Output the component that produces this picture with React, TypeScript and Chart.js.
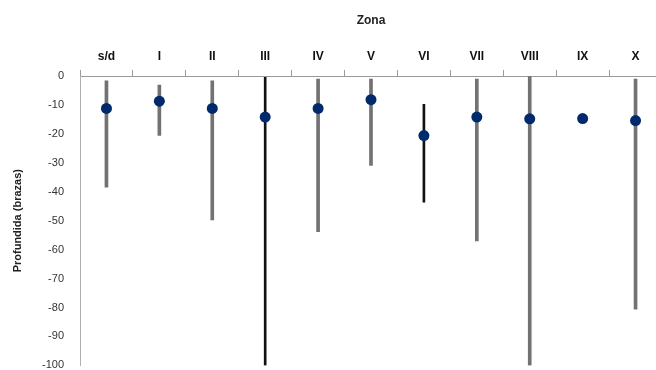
import React, { useEffect, useRef } from "react";
import { Chart, registerables } from "chart.js";

Chart.register(...registerables);

const categories = ["s/d", "I", "II", "III", "IV", "V", "VI", "VII", "VIII", "IX", "X"];
const meanDepth = [-11.2, -8.7, -11.2, -14.2, -11.2, -8.2, -20.6, -14.2, -14.8, -14.7, -15.4];
const shallowest: (number | null)[] = [-1.7, -3.1, -1.7, -0.5, -1.1, -1.1, -9.8, -1.1, 0, null, -1.1];
const deepest: (number | null)[] = [-38.4, -20.5, -49.7, -100, -53.8, -30.9, -43.6, -57, -100, null, -80.6];
const blackRange = ["III", "VI"];
const yTicks = [0, -10, -20, -30, -40, -50, -60, -70, -80, -90, -100];

export default function App() {
  const ref = useRef<HTMLCanvasElement | null>(null);
  useEffect(() => {
    const ranges = categories.map((c, i) =>
      shallowest[i] === null || deepest[i] === null ? null : [deepest[i], shallowest[i]]
    );
    const grayData = ranges.map((r, i) => (blackRange.includes(categories[i]) ? null : r));
    const blackData = ranges.map((r, i) => (blackRange.includes(categories[i]) ? r : null));
    const chart = new Chart(ref.current as HTMLCanvasElement, {
      type: "bar",
      data: {
        labels: categories,
        datasets: [
          {
            type: "line",
            data: meanDepth,
            showLine: false,
            pointRadius: 5.5,
            pointBackgroundColor: "#002a6c",
            pointBorderColor: "#002a6c",
            pointBorderWidth: 0,
            order: 0,
          } as any,
          {
            data: grayData as any,
            backgroundColor: "#727272",
            barThickness: 3,
            grouped: false,
            order: 1,
          },
          {
            data: blackData as any,
            backgroundColor: "#111111",
            barThickness: 2,
            grouped: false,
            order: 1,
          },
        ],
      },
      options: {
        animation: false,
        responsive: false,
        maintainAspectRatio: false,
        layout: { padding: { left: 0, top: 0, right: 8, bottom: 6 } },
        plugins: { legend: { display: false }, tooltip: { enabled: false } },
        scales: {
          x: {
            position: "top",
            offset: true,
            grid: { drawOnChartArea: false, offset: true, color: "#9a9a9a", tickLength: 6 },
            border: { color: "#9a9a9a", width: 1 },
            ticks: {
              color: "#111",
              padding: 6,
              font: { family: "Liberation Sans, Arial, sans-serif", size: 12, weight: "bold" },
            },
            title: {
              display: true,
              text: "Zona",
              color: "#222",
              padding: { top: 13, bottom: 0 },
              font: { family: "Liberation Sans, Arial, sans-serif", size: 12, weight: "bold" },
            },
            afterFit: (s: any) => {
              s.height = 76;
            },
          },
          y: {
            min: -100,
            max: 0,
            afterBuildTicks: (s: any) => {
              s.ticks = yTicks.map((v) => ({ value: v }));
            },
            grid: { display: true, drawOnChartArea: false, drawTicks: false, color: "transparent" },
            border: { color: "#b0b0b0", width: 1 },
            ticks: {
              color: "#333",
              padding: 16,
              font: { family: "Liberation Sans, Arial, sans-serif", size: 11 },
            },
            title: {
              display: true,
              text: "Profundida (brazas)",
              color: "#222",
              padding: { top: 11, bottom: 0 },
              font: { family: "Liberation Sans, Arial, sans-serif", size: 11, weight: "bold" },
            },
            afterFit: (s: any) => {
              s.width = 80;
            },
          },
        },
      },
    });
    return () => chart.destroy();
  }, []);
  return (
    <div style={{ position: "fixed", left: 0, top: 0, width: 656, height: 370, overflow: "hidden", background: "#fff" }}>
      <canvas ref={ref} width={670} height={388} style={{ display: "block", width: 670, height: 388 }} />
    </div>
  );
}
